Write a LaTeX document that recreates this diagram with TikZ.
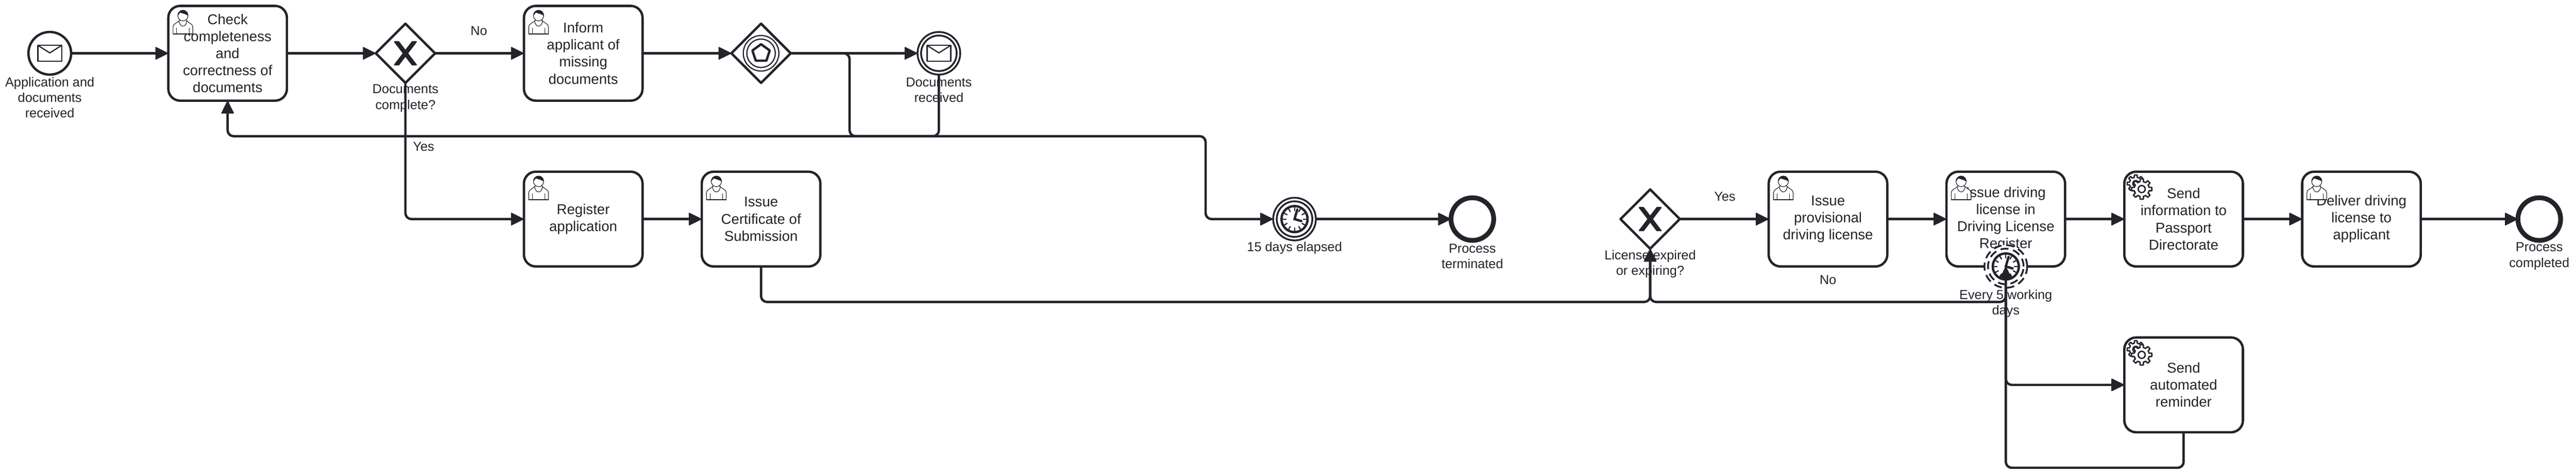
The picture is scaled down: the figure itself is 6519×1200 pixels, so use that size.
\documentclass[tikz,border=0pt]{standalone}
\usepackage{fontspec}
\setmainfont{Liberation Sans}
\usetikzlibrary{arrows.meta,shapes.geometric}
\definecolor{ink}{HTML}{22242A}
\def\pxunit{.01}

\newcommand{\usericon}[1]{
	\begin{scope}[shift={(#1.north west)},draw=ink,fill=white,line width=.015cm]
		\filldraw (12,71) -- (12,53) .. controls (12,45) and (24,43) .. (29,36) -- (45,36) .. controls (50,43) and (62,45) .. (62,53) -- (62,71) -- cycle;
		\filldraw (37,24.5) ellipse (13 and 13.5);
		\fill[ink] (24,25) .. controls (24,6) and (50,6) .. (50,25) .. controls (46,21) and (35,19) .. (30,17) -- cycle;
		\draw (27,37) .. controls (28,56) and (46,56) .. (47,37);
		\draw (21,55) -- (21,70);
		\draw (53,55) -- (53,70);
		\draw[line width=.03cm] (12,71) -- (62,71);
	\end{scope}
}
\newcommand{\gearpart}[3]{
	\begin{scope}[shift={#1}]
		\filldraw (-22.5:#2) \foreach \g in {0,45,...,315} {-- (\g-13:#2) -- (\g-9:#3) -- (\g+9:#3) -- (\g+13:#2) -- (\g+22.5:#2)} -- cycle;
		\draw (0,0) circle (#2*.47);
	\end{scope}
}
\newcommand{\gearicon}[1]{
	\begin{scope}[shift={(#1.north west)},draw=ink,fill=white,line width=.035cm,line join=round]
		\gearpart{(29,30)}{16}{22}
		\gearpart{(44,44)}{19}{26}
	\end{scope}
}
\newcommand{\clockicon}[1]{
	\begin{scope}[shift={(#1.center)},draw=ink]
		\draw[fill=white,line width=.06cm] (0,0) circle (33);
		\foreach \t in {0,30,...,330} {
			\draw[line width=.03cm] (\t:21) -- (\t:30);
		}
		\draw[line width=.06cm,line cap=round] (7,-24) -- (0,0) -- (17,5);
	\end{scope}
}
\newcommand{\mailicon}[1]{
	\begin{scope}[shift={(#1.center)},draw=ink,line width=.03cm,line join=round]
		\draw (-30,-20) rectangle (30,20);
		\draw (-30,-20) -- (0,-1) -- (30,-20);
	\end{scope}
}
\newcommand{\xicon}[1]{
	\begin{scope}[shift={(#1.center)}]
		\filldraw[draw=ink,fill=ink,line width=.03cm,line join=round] (-27.4,-29.1) -- (-5.1,0) -- (-27.4,29.2) -- (-17.1,29.2) -- (0,6.75) -- (17.2,29.2) -- (27.4,29.2) -- (5.2,0) -- (27.4,-29.1) -- (17.2,-29.1) -- (0,-6.75) -- (-17.1,-29.1) -- cycle;
	\end{scope}
}

\begin{document}
\begin{tikzpicture}[x=\pxunit cm,y=-\pxunit cm]
	\tikzstyle{tk}=[draw=ink,fill=white,text=ink,line width=.06cm,rounded corners=.3cm,minimum width=3cm,minimum height=2.4cm,inner sep=0,outer sep=0,align=center,font=\fontsize{10.24}{12.29}\selectfont]
	\tikzstyle{gw}=[diamond,aspect=1,draw=ink,fill=white,line width=.06cm,line join=round,minimum size=1.5cm,inner sep=0,outer sep=0]
	\tikzstyle{ev}=[circle,draw=ink,fill=white,line width=.06cm,minimum size=1.08cm,inner sep=0,outer sep=0]
	\tikzstyle{evm}=[ev,line width=.045cm]
	\tikzstyle{evi}=[evm,minimum size=.9cm]
	\tikzstyle{evd}=[evm,dash pattern=on .2cm off .12cm]
	\tikzstyle{evj}=[evi,dash pattern=on .2cm off .12cm]
	\tikzstyle{lb}=[text=ink,inner sep=0,align=center,font=\fontsize{9.39}{11.27}\selectfont]
	\tikzstyle{fl}=[draw=ink,line width=.06cm,rounded corners=.15cm,-{Triangle[length=.34cm,width=.33cm,round,line width=.02cm]}]
	\useasboundingbox (0,0) rectangle (6519,1200);
	% upper row
	\node[ev] (st) at (126,135) {};
	\mailicon{st}
	\node[lb] (lst) at (126,247) {Application and\\documents\\received};
	\node[tk] (chk) at (576,135) {Check\\completeness\\and\\correctness of\\documents};
	\usericon{chk}
	\node[gw] (gwa) at (1026,135) {};
	\xicon{gwa}
	\node[lb] (lgwa) at (1026,249) {Documents\\complete?};
	\node[lb] (lno) at (1212,78) {No};
	\node[lb] (lyes) at (1072,372) {Yes};
	\node[tk] (inf) at (1476,135) {Inform\\applicant of\\missing\\documents};
	\usericon{inf}
	\node[gw] (gwe) at (1926,135) {};
	\node[circle,draw=ink,line width=.03cm,minimum size=.9cm,inner sep=0,outer sep=0] (gwo) at (gwe) {};
	\node[circle,draw=ink,line width=.03cm,minimum size=.72cm,inner sep=0,outer sep=0] (gwp) at (gwe) {};
	\node[regular polygon,regular polygon sides=5,draw=ink,line width=.06cm,line join=round,minimum size=.46cm,inner sep=0,outer sep=0] (gwq) at (gwe) {};
	\node[evm] (rcv) at (2376,135) {};
	\node[evi] (rcvi) at (rcv) {};
	\mailicon{rcv}
	\node[lb] (lrcv) at (2376,228) {Documents\\received};
	% middle row
	\node[tk] (reg) at (1476,555) {Register\\application};
	\usericon{reg}
	\node[tk] (crt) at (1926,555) {Issue\\Certificate of\\Submission};
	\usericon{crt}
	\node[evm] (tmr) at (3276,555) {};
	\node[evi] (tmri) at (tmr) {};
	\clockicon{tmr}
	\node[lb] (ltmr) at (3276,629) {15 days elapsed};
	\node[ev,line width=.12cm] (trm) at (3726,555) {};
	\node[lb] (ltrm) at (3726,649) {Process\\terminated};
	\node[gw] (gwb) at (4176,555) {};
	\xicon{gwb}
	\node[lb] (lgwb) at (4176,669) {License expired\\or expiring?};
	\node[lb] (lyesb) at (4365,498) {Yes};
	\node[lb] (lnob) at (4626,709) {No};
	\node[tk] (pro) at (4626,555) {Issue\\provisional\\driving license};
	\usericon{pro}
	\node[tk] (ils) at (5076,555) {Issue driving\\license in\\Driving License\\Register};
	\usericon{ils}
	\node[evd] (bnd) at (5076,675) {};
	\node[evj] (bndi) at (bnd) {};
	\clockicon{bnd}
	\node[lb] (lbnd) at (5076,769) {Every 5 working\\days};
	\node[tk] (snd) at (5526,555) {Send\\information to\\Passport\\Directorate};
	\gearicon{snd}
	\node[tk] (dlv) at (5976,555) {Deliver driving\\license to\\applicant};
	\usericon{dlv}
	\node[ev,line width=.12cm] (fin) at (6426,555) {};
	\node[lb] (lfin) at (6426,649) {Process\\completed};
	% lower row
	\node[tk] (rem) at (5526,975) {Send\\automated\\reminder};
	\gearicon{rem}
	\coordinate (lpa) at (576,345);
	\coordinate (lpb) at (2150,345);
	\coordinate (lpc) at (3051,345);
	\coordinate (mga) at (4176,765);
	\coordinate (rtn) at (5076,1185);
	% flows
	\foreach \a/\b in {st/chk,chk/gwa,gwa/inf,inf/gwe,gwe/rcv,reg/crt,tmr/trm,gwb/pro,pro/ils,ils/snd,snd/dlv,dlv/fin} {
		\draw[fl] (\a.east) -- (\b.west);
	}
	\draw[fl] (gwa.south) |- (reg.west);
	\draw[fl] (rcv.south) |- (lpa) -- (chk.south);
	\draw[fl] (gwe.east) -| (lpb) -- (lpc) |- (tmr.west);
	\draw[fl] (crt.south) |- (mga) -- (gwb.south);
	\draw[fl] (bnd.south) |- (mga) -- (gwb.south);
	\draw[fl] (bnd.south) |- (rem.west);
	\draw[fl] (rem.south) |- (rtn) -- (ils.south);
\end{tikzpicture}
\end{document}
